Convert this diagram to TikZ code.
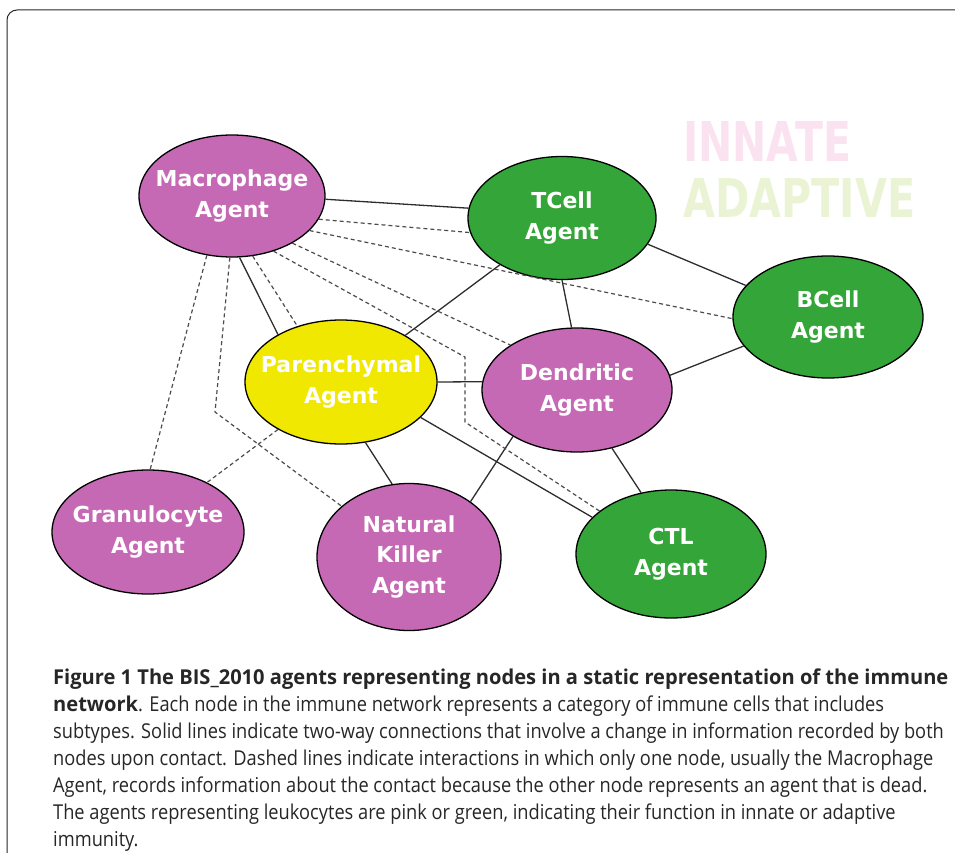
\documentclass[tikz,border=0pt]{standalone}
\usepackage{fontspec}
\setmainfont{Open Sans}
\newfontfamily\agentfont{DejaVu Sans}
\newfontfamily\capfont[FakeStretch=0.89, BoldFeatures={FakeStretch=0.98}]{Open Sans}
\usepackage{tikz}
\usetikzlibrary{shapes.geometric}

\definecolor{innatepink}{RGB}{198,105,180}
\definecolor{adaptgreen}{RGB}{52,165,56}
\definecolor{tissueyellow}{RGB}{240,232,0}
\definecolor{linkgray}{RGB}{45,45,45}
\definecolor{washpink}{RGB}{251,226,241}
\definecolor{washgreen}{RGB}{234,244,212}

\begin{document}
\begin{tikzpicture}[
  x=1pt, y=-1pt,
  agent/.style={ellipse, draw=black, line width=1.3pt, inner xsep=-16pt, inner ysep=0pt,
                text=white, align=center,
                font=\agentfont\bfseries\fontsize{22}{30.5}\selectfont},
  innate/.style={agent, fill=innatepink},
  adaptive/.style={agent, fill=adaptgreen},
  tissue/.style={agent, fill=tissueyellow},
  link/.style={draw=linkgray, line width=1.3pt},
  contact/.style={draw=linkgray!85, line width=1.2pt, dash pattern=on 4pt off 3pt},
]
\useasboundingbox (0,0) rectangle (955,853);
\draw[black!85, line width=1pt, rounded corners=10pt] (7,853) -- (7,10) -- (955,10);

\node[innate,   minimum width=186pt, minimum height=122pt] (mac)    at (232,196) {Macrophage\\Agent};
\node[adaptive, minimum width=188pt, minimum height=123pt] (tcell)  at (562,218) {TCell\\Agent};
\node[adaptive, minimum width=190pt, minimum height=122pt] (bcell)  at (828,317) {BCell\\Agent};
\node[tissue,   minimum width=192pt, minimum height=124pt] (parench) at (341,382) {Parenchymal\\Agent};
\node[innate,   minimum width=190pt, minimum height=124pt] (dend)   at (577,390) {Dendritic\\Agent};
\node[innate,   minimum width=192pt, minimum height=124pt] (granu)  at (148,532) {Granulocyte\\Agent};
\node[innate,   minimum width=184pt, minimum height=147pt] (nk)     at (409,557) {Natural\\Killer\\Agent};
\node[adaptive, minimum width=190pt, minimum height=128pt] (ctl)    at (671,554) {CTL\\Agent};

\draw[link] (mac.-2.5) -- (tcell.174);
\draw[link] (mac.-83) -- (parench.143);
\draw[link] (tcell.-17) -- (bcell.159.5);
\draw[link] (tcell.-143) -- (parench.36);
\draw[link] (tcell.-90) -- (dend.95);
\draw[link] (parench.0) -- (dend.175);
\draw[link] (dend.9) -- (bcell.199);
\draw[link] (parench.-68) -- (nk.103);
\draw[link] (parench.-24.5) -- (ctl.155.5);
\draw[link] (dend.-144) -- (nk.42);
\draw[link] (dend.-59) -- (ctl.116.6);

\coordinate (ctlbendA) at (465,357);
\coordinate (ctlbendB) at (465,422);
\coordinate (nkbend) at (215,412);
\draw[contact] (mac.-15) -- (tcell.-171);
\draw[contact] (mac.-24.5) -- (bcell.181);
\draw[contact] (mac.-38) -- (dend.146);
\draw[contact] (mac.-53.6) -- (ctlbendA) -- (ctlbendB) -- (ctl.149);
\draw[contact] (mac.-71) -- (parench.128.7);
\draw[contact] (mac.-92.5) -- (nkbend) -- (nk.143);
\draw[contact] (mac.-113) -- (granu.88);
\draw[contact] (parench.-143) -- (granu.40);

\node[anchor=south west, inner sep=0pt, text=washpink] (innatetag) at (683,162)
  {\resizebox{168pt}{40pt}{\agentfont\bfseries INNATE}};
\node[anchor=south west, inner sep=0pt, text=washgreen] (adapttag) at (683,218)
  {\resizebox{232pt}{39pt}{\agentfont\bfseries ADAPTIVE}};

\node[anchor=north west, inner sep=0pt, align=left,
      font=\capfont\fontsize{20.5}{27}\selectfont, text=black!85] (caption) at (53,669)
  {\textbf{Figure 1 The BIS\_2010 agents representing nodes in a static representation of the immune}\\
   \textbf{network}. Each node in the immune network represents a category of immune cells that includes\\
   subtypes. Solid lines indicate two-way connections that involve a change in information recorded by both\\
   nodes upon contact. Dashed lines indicate interactions in which only one node, usually the Macrophage\\
   Agent, records information about the contact because the other node represents an agent that is dead.\\
   The agents representing leukocytes are pink or green, indicating their function in innate or adaptive\\
   immunity.};
\end{tikzpicture}
\end{document}
